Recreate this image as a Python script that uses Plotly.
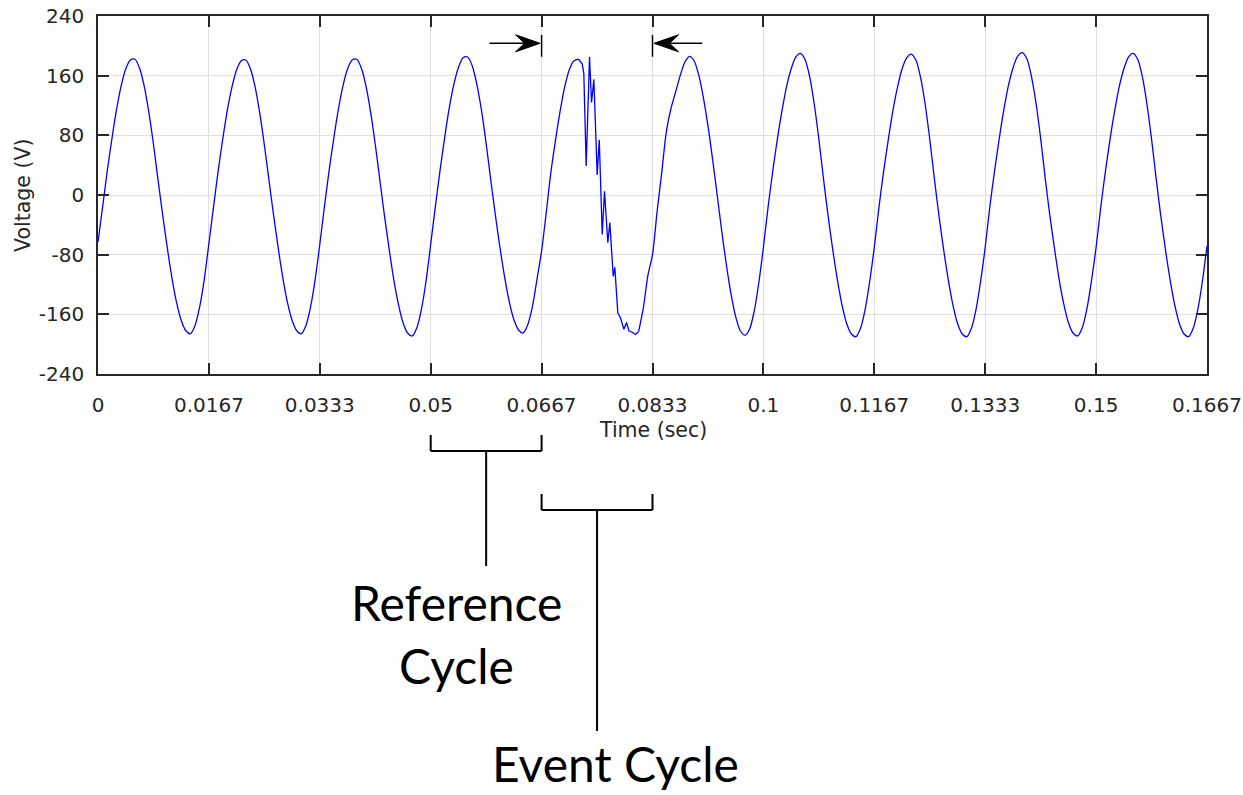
import plotly.graph_objects as go

# ---------------- data ----------------
SAMPLE_RATE_HZ = 1440.0          # 24 samples per 60 Hz cycle

# samples k = 0 .. 104 (four normal cycles + rising part of the event cycle)
pre_event_voltage = [
    -63, -16, 32, 75, 114, 146, 169, 181, 182, 170, 146, 111, 68, 20, -27, -71, -111, -144, -168, -182, -186, -175, -150, -113,
    -65, -16, 32, 75, 114, 145, 168, 180, 181, 169, 145, 110, 67, 20, -27, -71, -111, -144, -168, -182, -186, -175, -150, -113,
    -66, -16, 32, 75, 114, 146, 169, 181, 182, 170, 146, 111, 68, 20, -28, -72, -113, -146, -171, -185, -189, -178, -153, -115,
    -66, -16, 32, 76, 116, 148, 171, 184, 185, 173, 148, 113, 69, 20, -27, -71, -110, -143, -167, -181, -185, -174, -150, -113,
    -75, -24, 30, 73, 112, 145, 168, 180, 182,
]

# disturbance inside the event cycle (irregular time points)
event_time_s = [0.07277, 0.07301, 0.07337, 0.07387, 0.07417, 0.07452, 0.07502, 0.07533,
                0.07578, 0.07612, 0.07662, 0.07692, 0.07743, 0.07767, 0.07812, 0.07853,
                0.07903, 0.07943, 0.07978, 0.08028, 0.08079]
event_voltage = [176, 163, 39, 185, 124, 155, 27, 74,
                 -53, 5, -64, -37, -109, -97, -158, -165,
                 -180, -171, -182, -184, -187]

# samples k = 117 .. 240 (end of event cycle + five normal cycles)
POST_EVENT_START_INDEX = 117
post_event_voltage = [
    -183, -152, -108,
    -80, -22, 30, 85, 116, 138, 160, 178, 186, 180, 161, 131, 93, 48, 0, -49, -94, -133, -163, -182, -188, -180, -156, -118,
    -70, -17, 31, 74, 112, 145, 169, 185, 190, 182, 159, 122, 75, 22, -28, -73, -113, -147, -172, -186, -190, -179, -154, -116,
    -70, -17, 31, 73, 112, 144, 169, 184, 189, 181, 158, 122, 75, 22, -28, -73, -113, -147, -172, -186, -190, -179, -154, -116,
    -70, -16, 31, 74, 113, 146, 170, 186, 191, 183, 159, 123, 76, 22, -28, -72, -113, -146, -171, -185, -189, -178, -153, -115,
    -70, -17, 31, 74, 112, 145, 169, 185, 190, 182, 159, 122, 75, 22, -28, -73, -113, -147, -172, -186, -190, -179, -154, -116,
    -68,
]

x_tick_values = [0, 1/60, 2/60, 3/60, 4/60, 5/60, 6/60, 7/60, 8/60, 9/60, 10/60]
x_tick_labels = ["0", "0.0167", "0.0333", "0.05", "0.0667", "0.0833",
                 "0.1", "0.1167", "0.1333", "0.15", "0.1667"]
y_tick_values = [-240, -160, -80, 0, 80, 160, 240]
y_tick_labels = ["-240", "-160", "-80", "0", "80", "160", "240"]

reference_cycle = [3/60, 4/60]
event_cycle = [4/60, 5/60]

# ---------------- assemble series ----------------
pre_t = [i / SAMPLE_RATE_HZ for i in range(len(pre_event_voltage))]
post_t = [(POST_EVENT_START_INDEX + i) / SAMPLE_RATE_HZ for i in range(len(post_event_voltage))]
# event segment joined to its neighbours (shares the boundary samples)
event_t = [pre_t[-1]] + event_time_s + [post_t[0]]
event_v = [pre_event_voltage[-1]] + event_voltage + [post_event_voltage[0]]

# ---------------- layout geometry ----------------
W, H = 1243, 795
ML, MR, MT, MB = 98, 36, 16, 421
PLOT_TOP = MT
PLOT_BOTTOM = H - MB
PLOT_H = PLOT_BOTTOM - PLOT_TOP


def paper_y(px):
    return (PLOT_BOTTOM - px) / PLOT_H


AX_COLOR = "#262626"
TICK_FONT = dict(family="DejaVu Sans", size=20, color=AX_COLOR)
TITLE_FONT = dict(family="DejaVu Sans", size=20.5, color=AX_COLOR)
NOTE_FONT = dict(family="Lato", size=48, color="black")
WAVE = dict(color="#0000ff", width=1.3)

fig = go.Figure()
fig.add_trace(go.Scatter(x=pre_t, y=pre_event_voltage, mode="lines",
                         line=dict(shape="spline", smoothing=0.8, **WAVE),
                         showlegend=False, hoverinfo="skip"))
fig.add_trace(go.Scatter(x=event_t, y=event_v, mode="lines",
                         line=dict(shape="linear", **WAVE),
                         showlegend=False, hoverinfo="skip"))
fig.add_trace(go.Scatter(x=post_t, y=post_event_voltage, mode="lines",
                         line=dict(shape="spline", smoothing=0.8, **WAVE),
                         showlegend=False, hoverinfo="skip"))

axis_common = dict(showline=True, linecolor=AX_COLOR, linewidth=1.5, mirror="ticks",
                   ticks="inside", ticklen=11, tickwidth=1.5, tickcolor=AX_COLOR,
                   showgrid=True, gridcolor="#dfdfdf", gridwidth=1, zeroline=False,
                   tickfont=TICK_FONT, tickmode="array", automargin=False)

fig.update_layout(
    width=W, height=H,
    margin=dict(l=ML, r=MR, t=MT, b=MB, autoexpand=False),
    paper_bgcolor="white", plot_bgcolor="white",
    xaxis=dict(range=[0, 10/60], tickvals=x_tick_values, ticktext=x_tick_labels,
               ticklabelstandoff=12, **axis_common),
    yaxis=dict(range=[-240, 240], tickvals=y_tick_values, ticktext=y_tick_labels,
               ticklabelstandoff=8, **axis_common),
)

annotations = [
    dict(text="Time (sec)", xref="paper", yref="paper", x=0.5, y=paper_y(430),
         xanchor="center", yanchor="middle", showarrow=False, font=TITLE_FONT),
    dict(text="Voltage (V)", xref="paper", yref="paper", x=(23 - ML) / (W - ML - MR),
         y=paper_y(196), xanchor="center", yanchor="middle", textangle=-90,
         showarrow=False, font=TITLE_FONT),
    dict(text="Reference", xref="x", yref="paper", x=0.05388, y=paper_y(602),
         xanchor="center", yanchor="middle", showarrow=False, font=NOTE_FONT),
    dict(text="Cycle", xref="x", yref="paper", x=0.05388, y=paper_y(665),
         xanchor="center", yanchor="middle", showarrow=False, font=NOTE_FONT),
    dict(text="Event Cycle", xref="x", yref="paper", x=0.07777, y=paper_y(763),
         xanchor="center", yanchor="middle", showarrow=False, font=NOTE_FONT),
]

shapes = []
LINE = dict(color="black", width=2)


def bracket(x0, x1, top_px, bar_px, stem_px):
    xm = (x0 + x1) / 2
    return [
        dict(type="line", xref="x", yref="paper", x0=x0, x1=x0, y0=paper_y(top_px), y1=paper_y(bar_px), line=LINE),
        dict(type="line", xref="x", yref="paper", x0=x1, x1=x1, y0=paper_y(top_px), y1=paper_y(bar_px), line=LINE),
        dict(type="line", xref="x", yref="paper", x0=x0, x1=x1, y0=paper_y(bar_px), y1=paper_y(bar_px), line=LINE),
        dict(type="line", xref="x", yref="paper", x0=xm, x1=xm, y0=paper_y(bar_px), y1=paper_y(stem_px), line=LINE),
    ]


shapes += bracket(reference_cycle[0], reference_cycle[1], 435, 451, 566)
shapes += bracket(event_cycle[0], event_cycle[1], 494, 510, 731)

# event-window arrows at the top of the plot
ARROW = dict(color="black", width=1.5)
y_arrow = 203.4
for xv, x_tail, direction in [(event_cycle[0], 0.05884, 1), (event_cycle[1], 0.09081, -1)]:
    shapes.append(dict(type="line", xref="x", yref="y", x0=xv, x1=xv, y0=185.4, y1=214.5, line=ARROW))
    shapes.append(dict(type="line", xref="x", yref="y", x0=x_tail, x1=xv - direction * 0.0012,
                       y0=y_arrow, y1=y_arrow, line=ARROW))
    d = direction
    path = "M{:.1f},0 L{:.1f},8.5 L{:.1f},0 L{:.1f},-8.5 Z".format(-1.5 * d, -26 * d, -17 * d, -26 * d)
    shapes.append(dict(type="path", xref="x", yref="y", xsizemode="pixel", ysizemode="pixel",
                       xanchor=xv, yanchor=y_arrow, path=path,
                       fillcolor="black", line=dict(color="black", width=1)))

fig.update_layout(shapes=shapes, annotations=annotations)

fig.write_html("out.html", config={"displayModeBar": False})
